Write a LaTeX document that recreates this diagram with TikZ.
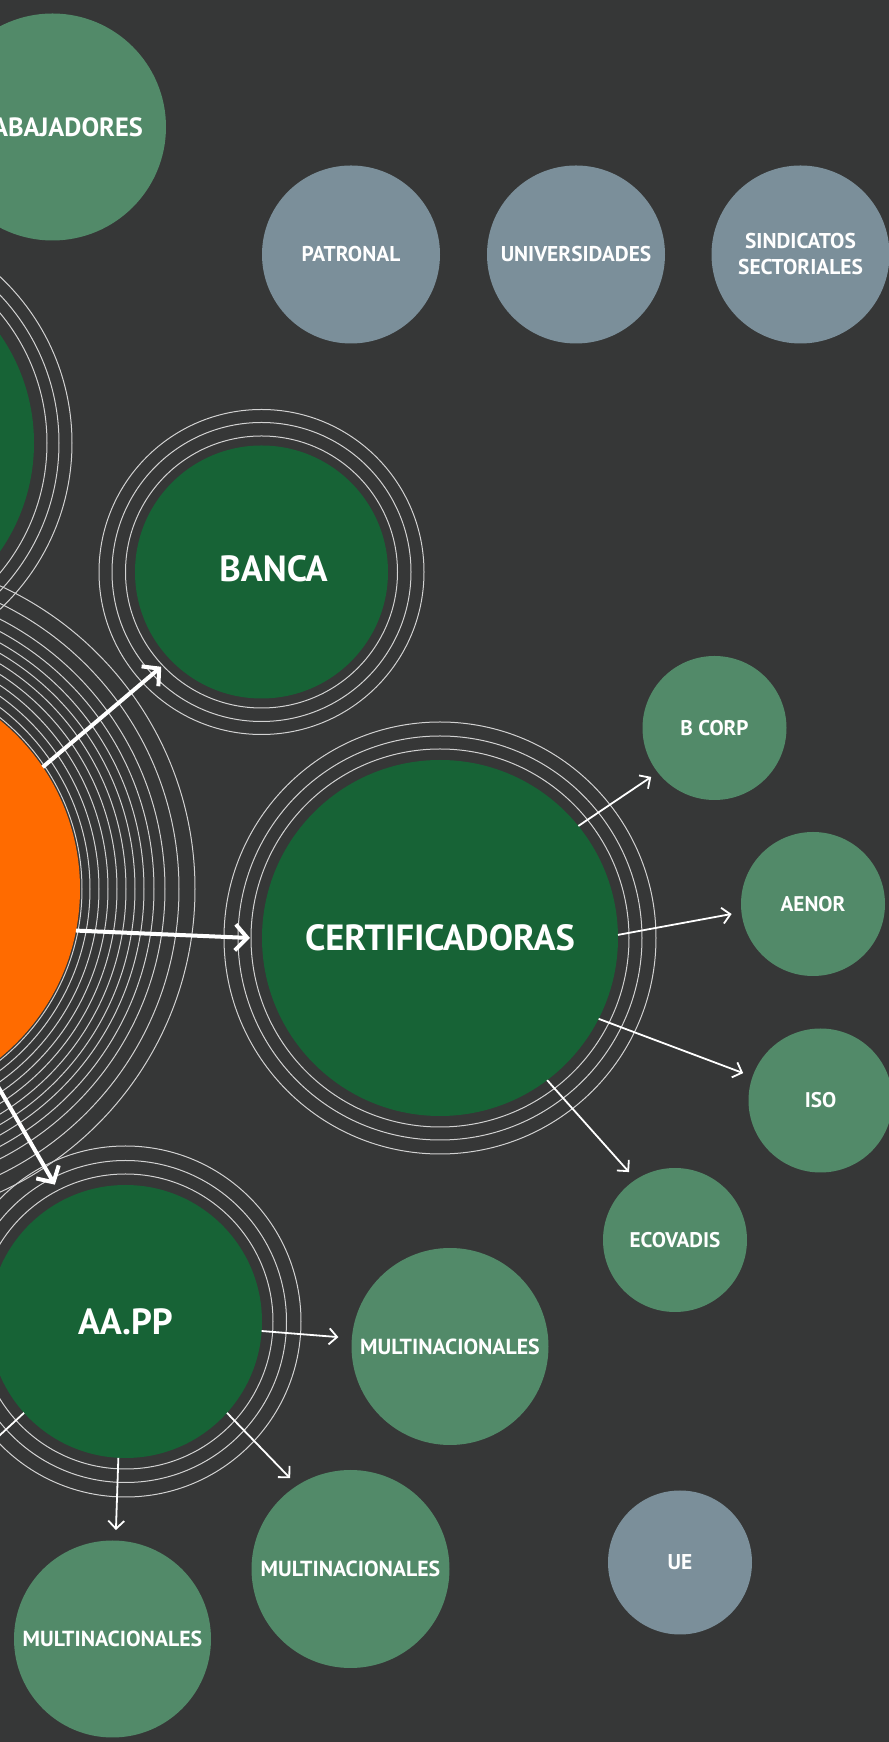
\documentclass[tikz,border=0pt]{standalone}
\usepackage{fontspec}
\setmainfont{PT Sans}
\usetikzlibrary{arrows.meta,calc}
\definecolor{bg}{HTML}{363737}
\definecolor{dkgreen}{HTML}{176336}
\definecolor{ltgreen}{HTML}{528A69}
\definecolor{greyblue}{HTML}{7B8F9A}
\definecolor{orng}{HTML}{FF6B00}
\definecolor{ringc}{HTML}{D2D2D2}
\begin{document}
\begin{tikzpicture}[x=0.5pt,y=0.5pt,
 bub/.style={circle,inner sep=0pt,outer sep=0pt,text=white,align=center},
 ring/.style={draw=ringc,line width=0.5pt},
 bigbub/.style={bub,fill=dkgreen,font=\bfseries\fontsize{18.2}{20}\selectfont},
 subbub/.style={bub,fill=ltgreen,font=\bfseries\fontsize{10.6}{13}\selectfont},
 multbub/.style={bub,fill=ltgreen,font=\bfseries\fontsize{10.9}{13}\selectfont},
 greybub/.style={bub,fill=greyblue,font=\bfseries\fontsize{10.7}{13}\selectfont},
 bigarrow/.style={draw=white,line width=2pt,-{Straight Barb[length=6pt,width=13pt,line width=2pt]}},
 smallarrow/.style={draw=white,line width=0.9pt,-{Straight Barb[length=4pt,width=8pt,line width=0.9pt]}}
]
\useasboundingbox (0,0) rectangle (889,1742);
\fill[bg] (0,0) rectangle (889,1742);
\begin{scope}
\clip (0,0) rectangle (889,1742);
% centres
\coordinate (c-trab) at (52.5,1615);
\coordinate (c-patr) at (351,1487.5);
\coordinate (c-univ) at (576,1487.5);
\coordinate (c-sind) at (800.5,1487.5);
\coordinate (c-left) at (-156,1299);
\coordinate (c-banca) at (261.5,1170);
\coordinate (c-orange) at (-138,853);
\coordinate (c-cert) at (440,804);
\coordinate (c-aapp) at (125.5,420.5);
\coordinate (c-bcorp) at (714.5,1014);
\coordinate (c-aenor) at (813,838);
\coordinate (c-iso) at (820.5,641.5);
\coordinate (c-eco) at (675,502);
\coordinate (c-m1) at (450,395.5);
\coordinate (c-m2) at (350.5,173);
\coordinate (c-m3) at (112.5,103);
\coordinate (c-ue) at (680,179.5);
\coordinate (offleft) at (-40,270);
% rings
\foreach \r in {203,215,228} \draw[ring] (c-left) circle[radius=\r];
\foreach \r in {136,149.5,162.5} \draw[ring] (c-banca) circle[radius=\r];
\foreach \r in {220,228,237,246,255,264,273,282,292,303,317,333} \draw[ring] (c-orange) circle[radius=\r];
\foreach \r in {189,202,216} \draw[ring] (c-cert) circle[radius=\r];
\foreach \r in {147.5,161,175.5} \draw[ring] (c-aapp) circle[radius=\r];
% circles
\node[multbub,minimum size=113.5pt,font=\bfseries\fontsize{13.2}{15}\selectfont] (trab) at (c-trab) {TRABAJADORES};
\node[greybub,minimum size=89pt] (patr) at (c-patr) {PATRONAL};
\node[greybub,minimum size=89pt] (univ) at (c-univ) {UNIVERSIDADES};
\node[greybub,minimum size=89pt] (sind) at (c-sind) {SINDICATOS\\SECTORIALES};
\node[bub,fill=dkgreen,minimum size=190pt] (left) at (c-left) {};
\node[bub,fill=dkgreen,minimum size=126.5pt] (banca) at (c-banca) {};
\node[bigbub,anchor=center] (bancatxt) at ($(banca)+(12,3)$) {BANCA};
\node[bub,fill=orng,minimum size=218pt] (orange) at (c-orange) {};
\node[bigbub,minimum size=178pt] (cert) at (c-cert) {CERTIFICADORAS};
\node[bigbub,minimum size=136.5pt] (aapp) at (c-aapp) {AA.PP};
\node[subbub,minimum size=72pt] (bcorp) at (c-bcorp) {B CORP};
\node[subbub,minimum size=72pt] (aenor) at (c-aenor) {AENOR};
\node[subbub,minimum size=72pt] (iso) at (c-iso) {ISO};
\node[subbub,minimum size=72pt] (eco) at (c-eco) {ECOVADIS};
\node[multbub,minimum size=98.5pt] (m1) at (c-m1) {MULTINACIONALES};
\node[multbub,minimum size=99pt] (m2) at (c-m2) {MULTINACIONALES};
\node[multbub,minimum size=98.5pt] (m3) at (c-m3) {MULTINACIONALES};
\node[greybub,minimum size=72pt] (ue) at (c-ue) {UE};
% arrows
\draw[bigarrow] (orange.34.1) -- ($(banca)+(223.4:138)$);
\draw[bigarrow] (orange.-11.7) -- ($(cert)+(180:190)$);
\draw[bigarrow] (orange.-55.5) -- ($(aapp)+(117.3:154)$);
\draw[smallarrow] (cert.39.1) -- ($(bcorp)+(217.7:80)$);
\draw[smallarrow] (cert.1.9) -- ($(aenor)+(187:82)$);
\draw[smallarrow] (cert.-27.4) -- ($(iso)+(160.5:82)$);
\draw[smallarrow] (cert.-53) -- ($(eco)+(124.1:82)$);
\draw[smallarrow] (aapp.-4.4) -- ($(m1)+(175.2:112)$);
\draw[smallarrow] (aapp.-42.9) -- ($(m2)+(123.6:109)$);
\draw[smallarrow] (aapp.-93.1) -- ($(m3)+(88.2:109)$);
\draw[smallarrow] (aapp.222.9) -- (offleft);
\end{scope}
\end{tikzpicture}
\end{document}
